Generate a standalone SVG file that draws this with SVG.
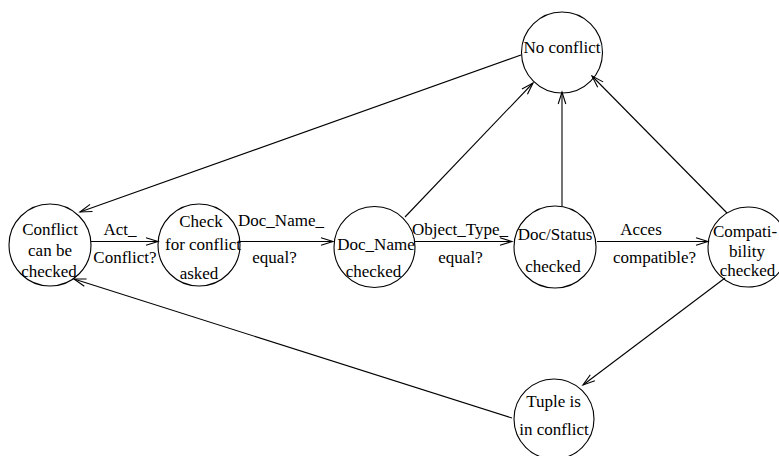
<svg xmlns="http://www.w3.org/2000/svg" width="779" height="456" viewBox="0 0 779 456" font-family="Liberation Serif, Times New Roman, Times, serif">
<style>
.n{fill:none;stroke:#000;stroke-width:1.1}
.e{fill:none;stroke:#000;stroke-width:1.1;marker-end:url(#ah)}
.t{font-size:17px;fill:#000;text-anchor:middle}
</style>
<defs>
<marker id="ah" markerUnits="userSpaceOnUse" markerWidth="16" markerHeight="12" viewBox="-13 -6 14 12" refX="0" refY="0" orient="auto">
<path d="M-12,-3.8 L0,0 L-12,3.8" fill="none" stroke="#000" stroke-width="1.1"/>
</marker>
</defs>
<rect width="779" height="456" fill="#fff"/>
<g id="connectors">
<line class="e" x1="521" y1="55" x2="80" y2="212"/>
<line class="e" x1="91" y1="241.5" x2="158" y2="241.5"/>
<line class="e" x1="239" y1="241.5" x2="333" y2="241.5"/>
<line class="e" x1="415" y1="241.5" x2="512" y2="241.5"/>
<line class="e" x1="597" y1="241.5" x2="708" y2="241.5"/>
<line class="e" x1="405" y1="217" x2="533" y2="83"/>
<line class="e" x1="562" y1="206" x2="562" y2="92"/>
<line class="e" x1="727" y1="213" x2="592" y2="76"/>
<line class="e" x1="725" y1="278" x2="583" y2="385"/>
<line class="e" x1="512" y1="418" x2="74" y2="279"/>
<text class="t" x="120" y="235">Act_</text>
<text class="t" x="125" y="263">Conflict?</text>
<text class="t" x="281" y="226">Doc_Name_</text>
<text class="t" x="274.5" y="263">equal?</text>
<text class="t" x="460" y="235">Object_Type_</text>
<text class="t" x="460.5" y="263">equal?</text>
<text class="t" x="641" y="235">Acces</text>
<text class="t" x="654.5" y="263">compatible?</text>
</g>
<g id="no-conflict">
<circle class="n" cx="562" cy="52.5" r="40.5"/>
<text class="t" x="562" y="53">No conflict</text>
</g>
<g id="conflict-can-be-checked">
<circle class="n" cx="50" cy="245" r="41"/>
<text class="t" x="50" y="235">Conflict</text>
<text class="t" x="50" y="256">can be</text>
<text class="t" x="49" y="277">checked</text>
</g>
<g id="check-for-conflict-asked">
<circle class="n" cx="199" cy="245" r="41"/>
<text class="t" x="201" y="227">Check</text>
<text class="t" x="203" y="250">for conflict</text>
<text class="t" x="199" y="279">asked</text>
</g>
<g id="doc-name-checked">
<circle class="n" cx="374.5" cy="247" r="40.5"/>
<text class="t" x="376" y="250">Doc_Name</text>
<text class="t" x="373.5" y="277">checked</text>
</g>
<g id="doc-status-checked">
<circle class="n" cx="555" cy="247" r="41"/>
<text class="t" x="555" y="240">Doc/Status</text>
<text class="t" x="553" y="272">checked</text>
</g>
<g id="compatibility-checked">
<circle class="n" cx="748" cy="247" r="40"/>
<text class="t" x="745" y="237">Compati-</text>
<text class="t" x="747" y="257">bility</text>
<text class="t" x="747.5" y="276">checked</text>
</g>
<g id="tuple-in-conflict">
<circle class="n" cx="554" cy="419" r="40"/>
<text class="t" x="553.5" y="407">Tuple is</text>
<text class="t" x="554" y="435">in conflict</text>
</g>
</svg>
